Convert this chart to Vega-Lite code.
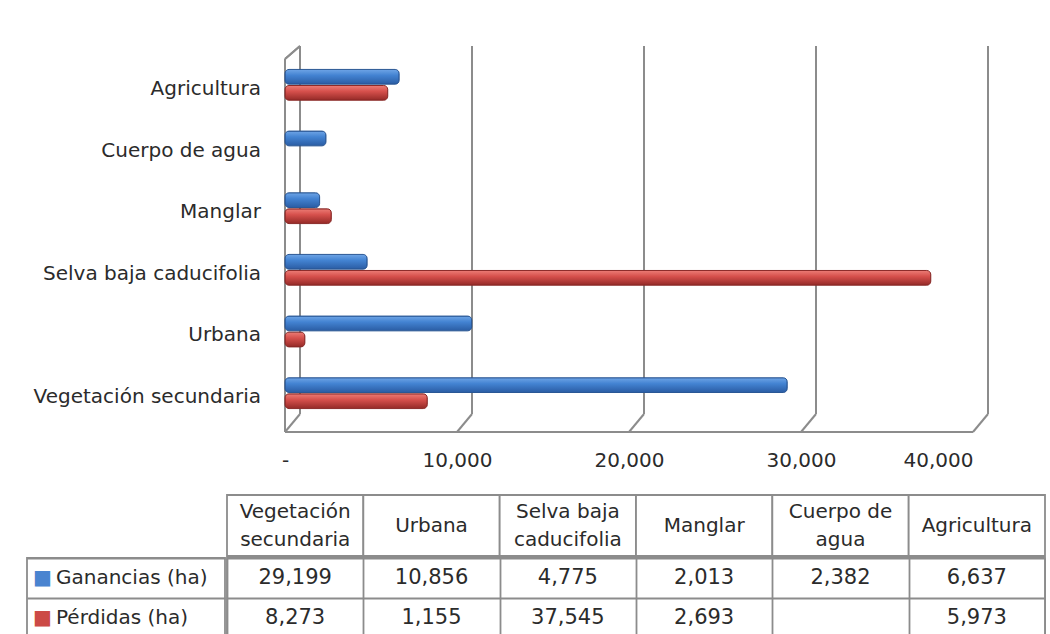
{
  "$schema": "https://vega.github.io/schema/vega-lite/v6.json",
  "padding": {"left": 26, "top": 45, "right": 0, "bottom": 0},
  "background": "white",
  "config": {"font": "DejaVu Sans", "view": {"stroke": null}},
  "datasets": {
    "cambios": [
      {"tipo": "Vegetación secundaria", "serie": "Ganancias (ha)", "valor": 29199},
      {"tipo": "Vegetación secundaria", "serie": "Pérdidas (ha)", "valor": 8273},
      {"tipo": "Urbana", "serie": "Ganancias (ha)", "valor": 10856},
      {"tipo": "Urbana", "serie": "Pérdidas (ha)", "valor": 1155},
      {"tipo": "Selva baja caducifolia", "serie": "Ganancias (ha)", "valor": 4775},
      {"tipo": "Selva baja caducifolia", "serie": "Pérdidas (ha)", "valor": 37545},
      {"tipo": "Manglar", "serie": "Ganancias (ha)", "valor": 2013},
      {"tipo": "Manglar", "serie": "Pérdidas (ha)", "valor": 2693},
      {"tipo": "Cuerpo de agua", "serie": "Ganancias (ha)", "valor": 2382},
      {"tipo": "Agricultura", "serie": "Ganancias (ha)", "valor": 6637},
      {"tipo": "Agricultura", "serie": "Pérdidas (ha)", "valor": 5973}
    ],
    "columnas": [
      {"tipo": "Vegetación secundaria", "encabezado": "Vegetación\nsecundaria"},
      {"tipo": "Urbana", "encabezado": "Urbana"},
      {"tipo": "Selva baja caducifolia", "encabezado": "Selva baja\ncaducifolia"},
      {"tipo": "Manglar", "encabezado": "Manglar"},
      {"tipo": "Cuerpo de agua", "encabezado": "Cuerpo de\nagua"},
      {"tipo": "Agricultura", "encabezado": "Agricultura"}
    ],
    "series": [{"serie": "Ganancias (ha)"}, {"serie": "Pérdidas (ha)"}],
    "rejilla": [{"valor": 0}, {"valor": 10000}, {"valor": 20000}, {"valor": 30000}, {"valor": 40000}]
  },
  "spacing": 24,
  "vconcat": [
    {
      "width": 946,
      "height": 386,
      "resolve": {"scale": {"y": "independent"}},
      "layer": [
        {
          "data": {"name": "rejilla"},
          "mark": {"type": "rule", "xOffset": 15, "yOffset": -18, "color": "#8c8c8c", "strokeWidth": 2},
          "encoding": {
            "x": {
              "field": "valor", "type": "quantitative",
              "scale": {"domain": [-15000, 40000], "nice": false, "zero": false},
              "axis": {
                "title": null, "values": [0, 10000, 20000, 30000, 40000],
                "labelExpr": "datum.value === 0 ? '-' : format(datum.value, ',')",
                "labelFontSize": 20, "labelColor": "#2b2b2b", "labelPadding": 18,
                "ticks": false, "grid": false, "domain": false
              }
            },
            "y": {"datum": 0, "type": "quantitative", "scale": {"domain": [0, 1]}, "axis": null},
            "y2": {"datum": 1}
          }
        },
        {
          "data": {"name": "rejilla"},
          "mark": {"type": "rule", "xOffset": 15, "yOffset": -18, "color": "#8c8c8c", "strokeWidth": 2},
          "encoding": {
            "x": {"field": "valor", "type": "quantitative"},
            "x2": {"field": "valor"},
            "y": {"datum": 0, "type": "quantitative", "scale": {"domain": [0, 1]}, "axis": null},
            "y2": {"datum": 0}
          }
        },
        {
          "data": {"name": "series"},
          "mark": {"type": "rule", "color": "#8c8c8c", "strokeWidth": 2},
          "encoding": {
            "x": {"datum": 0, "type": "quantitative"},
            "x2": {"datum": 40000},
            "y": {"datum": 0, "type": "quantitative", "scale": {"domain": [0, 1]}, "axis": null}
          }
        },
        {
          "data": {"name": "series"},
          "mark": {"type": "rule", "color": "#8c8c8c", "strokeWidth": 2, "y2Offset": 13},
          "encoding": {
            "x": {"datum": 0, "type": "quantitative"},
            "y": {"datum": 0, "type": "quantitative", "scale": {"domain": [0, 1]}, "axis": null},
            "y2": {"datum": 1}
          }
        },
        {
          "data": {"name": "series"},
          "mark": {"type": "rule", "color": "#8c8c8c", "strokeWidth": 2, "yOffset": 13, "x2Offset": 15},
          "encoding": {
            "x": {"datum": 0, "type": "quantitative"},
            "x2": {"datum": 0},
            "y": {"datum": 1, "type": "quantitative", "scale": {"domain": [0, 1]}, "axis": null},
            "y2": {"datum": 1}
          }
        },
        {
          "layer": [
            {
              "data": {"name": "cambios"},
              "transform": [{"filter": {"field": "serie", "equal": "Ganancias (ha)"}}],
              "mark": {
                "type": "bar", "cornerRadius": 4, "stroke": "#2a5795", "strokeWidth": 1,
                "color": {"gradient": "linear", "x1": 0, "y1": 0, "x2": 0, "y2": 1,
                  "stops": [{"offset": 0, "color": "#6fa5e6"}, {"offset": 0.4, "color": "#4383d2"}, {"offset": 1, "color": "#2a5ca3"}]}
              },
              "encoding": {
                "x": {"field": "valor", "type": "quantitative"},
                "y": {
                  "field": "tipo", "type": "nominal",
                  "scale": {"domain": ["Agricultura", "Cuerpo de agua", "Manglar", "Selva baja caducifolia", "Urbana", "Vegetación secundaria"], "paddingInner": 0.5, "paddingOuter": 0.38},
                  "axis": null
                },
                "yOffset": {"field": "serie", "type": "nominal", "scale": {"domain": ["Ganancias (ha)", "Pérdidas (ha)"], "paddingInner": 0.08, "paddingOuter": 0}}
              }
            },
            {
              "data": {"name": "cambios"},
              "transform": [{"filter": {"field": "serie", "equal": "Pérdidas (ha)"}}],
              "mark": {
                "type": "bar", "cornerRadius": 4, "stroke": "#8a2a28", "strokeWidth": 1,
                "color": {"gradient": "linear", "x1": 0, "y1": 0, "x2": 0, "y2": 1,
                  "stops": [{"offset": 0, "color": "#ec7d76"}, {"offset": 0.4, "color": "#d6504c"}, {"offset": 1, "color": "#942a27"}]}
              },
              "encoding": {
                "x": {"field": "valor", "type": "quantitative"},
                "y": {"field": "tipo", "type": "nominal"},
                "yOffset": {"field": "serie", "type": "nominal"}
              }
            },
            {
              "data": {"name": "columnas"},
              "mark": {"type": "text", "align": "right", "baseline": "middle", "dx": -24, "dy": 4, "fontSize": 20, "color": "#2b2b2b"},
              "encoding": {
                "x": {"datum": 0, "type": "quantitative"},
                "y": {"field": "tipo", "type": "nominal"},
                "text": {"field": "tipo"}
              }
            }
          ]
        }
      ]
    },
    {
      "columns": 2,
      "spacing": 0,
      "concat": [
        {
          "width": 198,
          "height": 61,
          "data": {"name": "series"},
          "mark": {"type": "text", "text": ""},
          "encoding": {}
        },
        {
          "width": 818,
          "height": 61,
          "data": {"name": "columnas"},
          "layer": [
            {
              "mark": {"type": "rect", "fill": "white", "stroke": "#8c8c8c", "strokeWidth": 1.8},
              "encoding": {
                "x": {"field": "tipo", "type": "nominal",
                  "scale": {"domain": ["Vegetación secundaria", "Urbana", "Selva baja caducifolia", "Manglar", "Cuerpo de agua", "Agricultura"], "paddingInner": 0, "paddingOuter": 0},
                  "axis": null}
              }
            },
            {
              "transform": [{"filter": {"field": "tipo", "oneOf": ["Urbana", "Manglar", "Agricultura"]}}],
              "mark": {"type": "text", "fontSize": 20, "color": "#2b2b2b", "baseline": "middle"},
              "encoding": {
                "x": {"field": "tipo", "type": "nominal"},
                "text": {"field": "encabezado"}
              }
            },
            {
              "transform": [{"filter": {"field": "tipo", "oneOf": ["Vegetación secundaria", "Selva baja caducifolia", "Cuerpo de agua"]}}],
              "mark": {"type": "text", "lineBreak": "\n", "fontSize": 20, "color": "#2b2b2b", "baseline": "middle", "lineHeight": 28, "dy": -14},
              "encoding": {
                "x": {"field": "tipo", "type": "nominal"},
                "text": {"field": "encabezado"}
              }
            }
          ]
        },
        {
          "width": 198,
          "height": 80,
          "data": {"name": "series"},
          "view": {"stroke": "#8c8c8c", "strokeWidth": 1.8},
          "layer": [
            {
              "mark": {"type": "text", "text": "■", "align": "left", "dx": -93, "fontSize": 20},
              "encoding": {
                "y": {"field": "serie", "type": "nominal",
                  "scale": {"domain": ["Ganancias (ha)", "Pérdidas (ha)"], "paddingInner": 0, "paddingOuter": 0},
                  "axis": {"title": null, "labels": false, "ticks": false, "domain": false, "grid": true, "tickBand": "extent", "gridColor": "#8c8c8c", "gridWidth": 1.8}},
                "color": {"field": "serie", "type": "nominal", "scale": {"domain": ["Ganancias (ha)", "Pérdidas (ha)"], "range": ["#4a84d0", "#cc4a46"]}, "legend": null}
              }
            },
            {
              "mark": {"type": "text", "align": "left", "dx": -70, "fontSize": 20, "color": "#2b2b2b"},
              "encoding": {
                "y": {"field": "serie", "type": "nominal"},
                "text": {"field": "serie"}
              }
            }
          ]
        },
        {
          "width": 818,
          "height": 80,
          "data": {"name": "cambios"},
          "view": {"stroke": "#8c8c8c", "strokeWidth": 1.8},
          "mark": {"type": "text", "fontSize": 21, "color": "#2b2b2b"},
          "encoding": {
            "x": {"field": "tipo", "type": "nominal",
              "scale": {"domain": ["Vegetación secundaria", "Urbana", "Selva baja caducifolia", "Manglar", "Cuerpo de agua", "Agricultura"], "paddingInner": 0, "paddingOuter": 0},
              "axis": {"title": null, "labels": false, "ticks": false, "domain": false, "grid": true, "tickBand": "extent", "gridColor": "#8c8c8c", "gridWidth": 1.8}},
            "y": {"field": "serie", "type": "nominal",
              "scale": {"domain": ["Ganancias (ha)", "Pérdidas (ha)"], "paddingInner": 0, "paddingOuter": 0},
              "axis": {"title": null, "labels": false, "ticks": false, "domain": false, "grid": true, "tickBand": "extent", "gridColor": "#8c8c8c", "gridWidth": 1.8}},
            "text": {"field": "valor", "type": "quantitative", "format": ","}
          }
        }
      ]
    }
  ]
}
